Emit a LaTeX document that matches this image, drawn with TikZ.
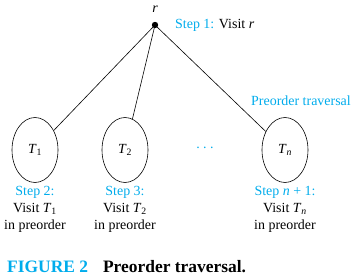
\documentclass[tikz,border=0pt]{standalone}
\usepackage{fontspec}
\setmainfont{Liberation Serif}
\usetikzlibrary{shapes.geometric}
\definecolor{stepcyan}{RGB}{0,172,236}
\newcommand\Tsb[1]{\textit{T}\textsubscript{#1}}
\begin{document}
\begin{tikzpicture}[x=1bp,y=-1bp,
  every node/.style={font=\fontsize{14}{17}\selectfont},
  subtree/.style={draw, ellipse, line width=0.6pt, minimum width=46bp, minimum height=65bp, inner sep=0pt},
  edge/.style={line width=0.6pt},
  steptext/.style={align=center, anchor=north, inner sep=0pt},
  cyantext/.style={text=stepcyan}]
\useasboundingbox (0,0) rectangle (355,279);
% root
\fill (155,25) circle (3.2bp);
\coordinate (root) at (155,25);
\node[inner sep=0pt] (rlab) at (155,9) {\textit{r}};
\node[anchor=west, inner sep=0pt] (step1) at (175,25) {\textcolor{stepcyan}{Step 1:} Visit \textit{r}};
% subtrees
\node[subtree] (t1) at (35,150) {\Tsb{1}};
\node[subtree] (t2) at (125,150) {\Tsb{2}};
\node[subtree] (tn) at (285,150) {\Tsb{\textit{n}}};
\node[cyantext, inner sep=0pt] (dots) at (205,148) {.\hspace{3.5bp}.\hspace{3.5bp}.};
\node[cyantext, inner sep=0pt] (trav) at (301,101) {Preorder traversal};
% edges
\draw[edge] (root) -- (t1);
\draw[edge] (root) -- (t2);
\draw[edge] (root) -- (tn);
% step labels
\node[steptext] (s2) at (35,186) {\textcolor{stepcyan}{Step 2:}\\Visit \Tsb{1}\\in preorder};
\node[steptext] (s3) at (125,186) {\textcolor{stepcyan}{Step 3:}\\Visit \Tsb{2}\\in preorder};
\node[steptext] (sn) at (285,186) {\textcolor{stepcyan}{Step \textit{n} + 1:}\\Visit \Tsb{\textit{n}}\\in preorder};
% caption
\node[anchor=west, inner sep=0pt, font=\fontsize{17.5}{21}\selectfont\bfseries] (cap) at (7,267)
  {\textcolor{stepcyan}{FIGURE 2}\hspace{15bp}Preorder traversal.};
\end{tikzpicture}
\end{document}
